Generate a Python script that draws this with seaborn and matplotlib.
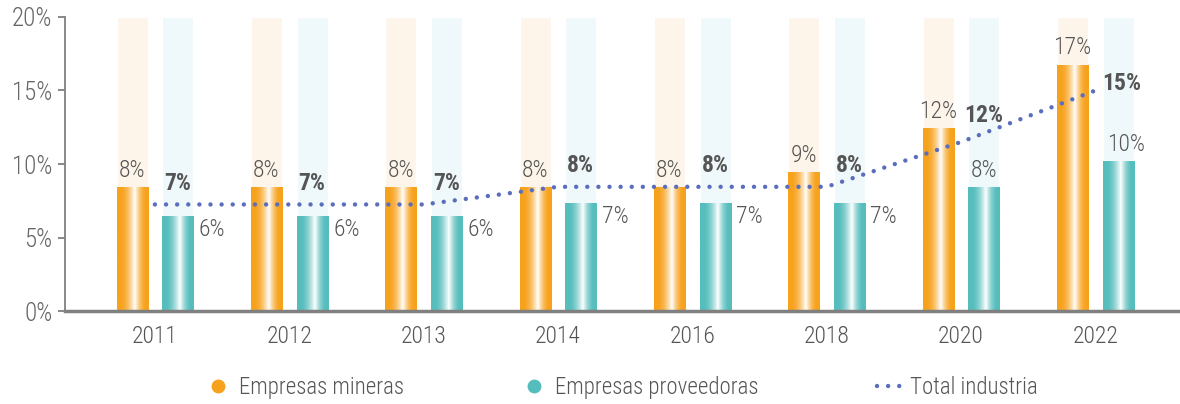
import numpy as np
import pandas as pd
import matplotlib.pyplot as plt
import matplotlib.colors as mcolors
from matplotlib.lines import Line2D
import seaborn as sns

# Datos
years = ['2011', '2012', '2013', '2014', '2016', '2018', '2020', '2022']
mineras = [8.4, 8.4, 8.4, 8.4, 8.4, 9.4, 12.4, 16.7]
proveedoras = [6.4, 6.4, 6.4, 7.3, 7.3, 7.3, 8.4, 10.2]
total = [7.25, 7.25, 7.25, 8.45, 8.45, 8.45, 11.5, 15.0]
series = ['Empresas mineras', 'Empresas proveedoras']
fondo = [20] * len(years)

naranja = '#F7A21C'
turquesa = '#56BDBD'
azul = '#5A6EBD'
gris_txt = '#555555'

sns.set_style('white')
plt.rcParams['font.family'] = ['Roboto Condensed', 'Liberation Sans Narrow', 'Roboto', 'DejaVu Sans']
plt.rcParams['font.weight'] = 'light'

df = pd.DataFrame({
    'year': years * 2,
    'serie': [series[0]] * len(years) + [series[1]] * len(years),
    'valor': mineras + proveedoras,
    'fondo': fondo * 2,
})

fig = plt.figure(figsize=(11.8, 4.04), dpi=100)
ax = fig.add_axes([0.055, 0.23, 0.945, 0.728])

# barras de fondo (pálidas, hasta 20%)
sns.barplot(data=df, x='year', y='fondo', hue='serie', hue_order=series,
            palette=['#FEF5EA', '#EFF8FA'], saturation=1, width=0.68, gap=0.32,
            legend=False, ax=ax, zorder=1)
n_bg = len(ax.patches)

sns.barplot(data=df, x='year', y='valor', hue='serie', hue_order=series,
            palette=[naranja, turquesa], saturation=1, width=0.68, gap=0.32,
            legend=False, ax=ax, zorder=2)
barras = ax.patches[n_bg:]

# degradado con brillo blanco en cada barra
t = np.linspace(0, 1, 200)
brillo = np.where(t < 0.56, 1 - (0.56 - t) / 0.45, 1 - (t - 0.56) / 0.36)
brillo = np.clip(brillo, 0, 1) ** 1.8
for p in barras:
    base = np.array(mcolors.to_rgb(p.get_facecolor()))
    rgb = base[None, :] * (1 - brillo[:, None]) + brillo[:, None]
    img = rgb[None, :, :]
    x0 = p.get_x()
    ax.imshow(img, extent=[x0, x0 + p.get_width(), 0, p.get_height()],
              aspect='auto', interpolation='bilinear', zorder=3)

# línea total industria
xpos = np.arange(len(years))
sns.lineplot(x=xpos, y=total, color=azul, lw=3.2,
             linestyle=(0, (0.001, 2.5)), ax=ax, zorder=5)
ax.lines[-1].set_dash_capstyle('round')

ax.set_xlim(-0.67, 7.63)
ax.set_ylim(0, 20)

# etiquetas
bar_m = barras[:len(years)]
bar_p = barras[len(years):]
fs = 17
for i in range(len(years)):
    pm = bar_m[i]
    cx = pm.get_x() + pm.get_width() / 2
    ax.text(cx, mineras[i] + 0.75, f'{int(mineras[i] + 0.5)}%', ha='center',
            va='baseline', fontsize=fs, color=gris_txt, zorder=6)

    pp = bar_p[i]
    cxp = pp.get_x() + pp.get_width() / 2
    lbl = f'{int(proveedoras[i] + 0.5)}%'
    if total[i] - proveedoras[i] < 1.5:
        ax.text(pp.get_x() + pp.get_width() + 0.04, proveedoras[i] - 1.3, lbl,
                ha='left', va='baseline', fontsize=fs, color=gris_txt, zorder=6)
    else:
        ax.text(cxp + (0.06 if i == len(years) - 1 else 0), proveedoras[i] + 0.7, lbl,
                ha='center', va='baseline', fontsize=fs, color=gris_txt, zorder=6)

    lt = f'{int(total[i] + 0.5)}%'
    if i == len(years) - 1:
        ax.text(pp.get_x(), total[i] + 0.05, lt, ha='left', va='baseline',
                fontsize=fs, fontweight='bold', color=gris_txt, zorder=6)
    else:
        ax.text(cxp, total[i] + 1.0 + (0.35 if total[i] > 10 else 0), lt,
                ha='center', va='baseline', fontsize=fs, fontweight='bold',
                color=gris_txt, zorder=6)

# ejes
ax.set_yticks([0, 5, 10, 15, 20])
ax.set_yticklabels([f'{v}%' for v in [0, 5, 10, 15, 20]])
ax.set_xlabel('')
ax.set_ylabel('')
for s in ['top', 'right']:
    ax.spines[s].set_visible(False)
ax.spines['left'].set_color('#808080')
ax.spines['left'].set_linewidth(1.3)
ax.spines['bottom'].set_color('#808080')
ax.spines['bottom'].set_linewidth(2.5)
ax.spines['bottom'].set_zorder(7)
ax.tick_params(axis='y', length=5, width=1.3, color='#808080', labelsize=18,
               labelcolor='#666666', pad=4, left=True)
ax.tick_params(axis='x', length=0, labelsize=17, labelcolor='#555555', pad=10)

# leyenda
handles = [
    Line2D([], [], marker='o', color='none', markerfacecolor=naranja,
           markeredgecolor='none', markersize=10),
    Line2D([], [], marker='o', color='none', markerfacecolor=turquesa,
           markeredgecolor='none', markersize=10),
    Line2D([], [], color=azul, lw=3.2, linestyle=(0, (0.001, 2.5)),
           dash_capstyle='round'),
]
fig.legend(handles, series + ['Total industria'], loc='center',
           bbox_to_anchor=(0.527, 0.04), ncol=3, frameon=False,
           fontsize=16.5, labelcolor='#555555', handlelength=1.0,
           handletextpad=0.4, columnspacing=5.2)

fig.savefig('out.png', dpi=100)
